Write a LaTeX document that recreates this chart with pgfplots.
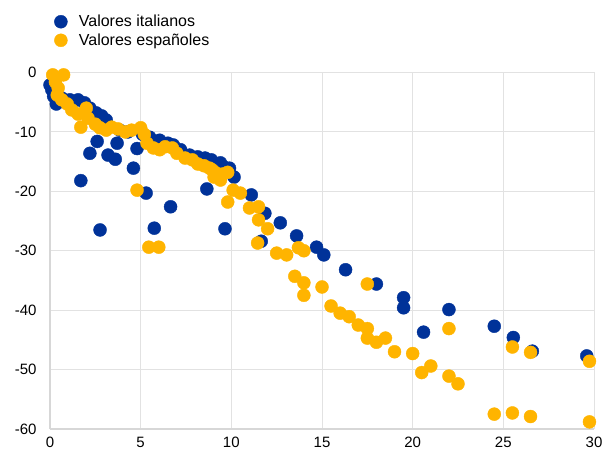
\documentclass[border=0pt]{standalone}
\usepackage{fontspec}
\setmainfont{Liberation Sans}
\usepackage{pgfplots}
\pgfplotsset{compat=1.18}
\definecolor{ecbblue}{RGB}{0,50,153}
\definecolor{ecbyellow}{RGB}{255,180,0}
\definecolor{gridgray}{RGB}{226,226,226}
\definecolor{axgray}{RGB}{215,215,215}
\begin{document}
\begin{tikzpicture}
\useasboundingbox (-50bp,-23bp) rectangle (553bp,429bp);
\begin{axis}[
  at={(0,0)}, anchor=south west,
  scale only axis, width=544bp, height=356.5bp,
  xmin=0, xmax=30, ymin=-60, ymax=0,
  clip=false,
  axis line style={draw=none},
  xtick={0,5,10,15,20,25,30},
  xticklabels={0,5,10,15,20,25,30},
  ytick={-60,-50,-40,-30,-20,-10,0},
  yticklabels={{-60},{-50},{-40},{-30},{-20},{-10},{0}},
  major tick length=0pt,
  grid=major,
  grid style={gridgray, line width=1bp},
  extra x ticks={0}, extra x tick labels={},
  extra x tick style={grid style={axgray, line width=2bp}},
  extra y ticks={-60}, extra y tick labels={},
  extra y tick style={grid style={axgray, line width=1.5bp}},
  tick label style={font=\fontsize{15bp}{17bp}\selectfont, text=black},
  xticklabel style={inner sep=0pt, outer sep=0pt, anchor=north, yshift=-8bp},
  yticklabel style={xshift=-10bp},
  legend style={at={(0,1)}, anchor=north west, xshift=3.7bp, yshift=59.5bp,
    draw=none, fill=none, font=\fontsize{16bp}{18bp}\selectfont,
    row sep=1.5bp, inner sep=0bp},
  legend cell align=left,
  legend image code/.code={\path[draw=none,fill=none] (0bp,-6bp) rectangle (23bp,6bp);
    \draw[mark repeat=2,mark phase=2,#1] plot coordinates {(0bp,0bp)(7bp,0bp)(14bp,0bp)};},
]
\addplot[only marks, mark=*, mark size=6.5bp, mark options={draw=ecbblue, fill=ecbblue}] coordinates {
(0.0,-2.1)(0.1,-2.9)(0.2,-4.0)(0.35,-5.3)(0.65,-4.3)(1.1,-4.6)(1.55,-4.6)(1.9,-5.1)(2.2,-6.0)(2.55,-6.8)(2.85,-7.3)(3.1,-8.0)(3.0,-9.0)(2.6,-11.6)(3.7,-11.9)(3.85,-9.7)(4.3,-10.0)(4.8,-12.8)(5.1,-10.4)(5.5,-10.9)(6.05,-11.4)(6.5,-11.9)(6.8,-12.2)(7.2,-13.0)(7.7,-13.9)(8.15,-14.2)(8.55,-14.4)(8.9,-14.7)(9.4,-15.2)(9.6,-15.9)(9.9,-16.1)(10.15,-17.6)
(1.7,-18.2)(2.76,-26.5)(2.2,-13.6)(3.2,-13.9)(3.6,-14.6)(4.6,-16.1)(5.3,-20.3)(5.75,-26.2)(6.65,-22.6)(8.65,-19.6)(9.65,-26.3)(11.1,-20.6)(11.85,-23.7)(11.65,-28.4)(12.7,-25.3)(13.6,-27.5)(14.7,-29.4)(15.1,-30.7)(16.3,-33.2)(18.0,-35.6)(19.5,-37.9)(19.5,-39.6)(20.6,-43.7)(22.0,-39.9)(24.5,-42.7)(25.55,-44.6)(26.6,-46.9)(29.6,-47.7)
};
\addlegendentry{Valores italianos}
\addplot[only marks, mark=*, mark size=6.5bp, mark options={draw=ecbyellow, fill=ecbyellow}] coordinates {
(0.15,-0.4)(0.75,-0.4)(0.3,-1.6)(0.45,-2.6)(0.4,-3.8)(0.65,-4.6)(0.95,-5.3)(1.2,-6.3)(1.55,-7.0)(2.0,-6.0)(1.7,-9.2)(2.1,-7.7)(2.5,-8.7)(2.75,-9.3)(3.1,-9.7)(3.4,-9.2)(3.75,-9.5)(4.15,-10.0)(4.5,-9.7)(5.0,-9.3)(5.2,-10.4)(5.35,-11.9)(5.7,-12.7)(6.05,-13.0)(6.35,-12.5)(6.75,-12.7)(7.0,-13.6)(7.45,-14.4)(7.85,-14.7)(8.15,-15.4)(8.5,-15.7)(8.8,-16.1)(8.95,-16.4)(9.15,-16.9)(9.5,-17.1)(9.8,-16.8)(9.05,-17.6)(9.4,-18.1)
(4.8,-19.8)(5.45,-29.4)(6.0,-29.4)(9.8,-21.8)(10.1,-19.8)(10.5,-20.3)(11.0,-22.8)(11.5,-22.6)(11.5,-24.8)(12.0,-26.3)(11.45,-28.7)(12.5,-30.4)(13.05,-30.7)(13.5,-34.3)(13.7,-29.5)(14.0,-30.0)(14.0,-35.4)(14.0,-37.5)(15.0,-36.1)(15.5,-39.3)(16.0,-40.5)(16.5,-41.1)(17.0,-42.5)(17.5,-43.1)(17.5,-44.7)(18.0,-45.4)(18.5,-44.7)(17.5,-35.6)(19.0,-47.0)(20.0,-47.3)(20.5,-50.5)(21.0,-49.4)(22.0,-43.1)(22.0,-51.1)(22.5,-52.4)(24.5,-57.5)(25.5,-57.3)(26.5,-57.9)(29.75,-58.8)(25.5,-46.2)(26.5,-47.1)(29.75,-48.6)
};
\addlegendentry{Valores españoles}
\end{axis}
\end{tikzpicture}
\end{document}
